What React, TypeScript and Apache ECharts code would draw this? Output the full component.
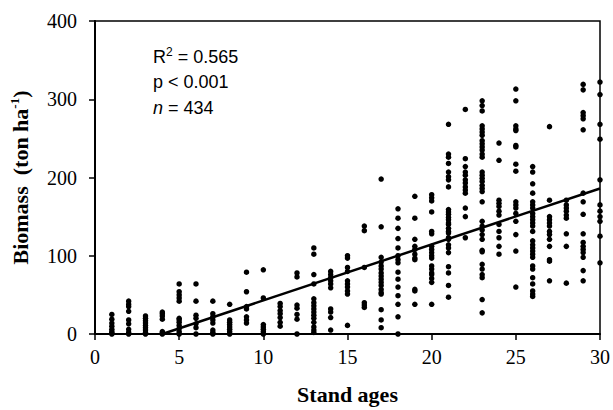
import React, { useEffect, useRef } from "react";
import * as echarts from "echarts";

const xTicks = [0, 5, 10, 15, 20, 25, 30];
const yTicks = [0, 100, 200, 300, 400];

const ages = [1, 2, 3, 4, 5, 6, 7, 8, 9, 10, 11, 12, 13, 14, 15, 16, 17, 18, 19, 20, 21, 22, 23, 24, 25, 26, 27, 28, 29, 30];

const b1 = [25, 19, 14, 10, 6, 3, 1, 0];
const b2 = [42, 38, 35, 29, 18, 13, 6, 2, 0];
const b3 = [23, 20, 17, 14, 11, 8, 5, 2, 0];
const b4 = [28, 26, 23, 19, 3, 1, 0];
const b5 = [64, 54, 50, 46, 42, 20, 18, 15, 11, 7, 3, 0];
const b6 = [64, 42, 24, 20, 13, 8, 0];
const b7 = [42, 26, 22, 18, 14, 5, 2, 0];
const b8 = [38, 18, 15, 12, 9, 6, 3, 0];
const b9 = [79, 54, 35, 32, 22, 18, 14];
const b10 = [82, 46, 12, 9, 6, 3, 0];
const b11 = [39, 35, 30, 26, 21, 15, 10];
const b12 = [78, 73, 37, 33, 25, 19, 0];
const b13 = [110, 102, 76, 64, 45, 40, 36, 32, 28, 24, 20, 15, 9, 5, 2];
const b14 = [80, 76, 72, 68, 64, 59, 32, 28, 21, 5];
const b15 = [100, 97, 85, 80, 68, 64, 60, 55, 51, 11];
const b16 = [138, 132, 85, 40, 37, 34];
const b17 = [198, 137, 98, 92, 87, 83, 78, 74, 70, 66, 62, 57, 53, 51, 31, 18, 8];
const b18 = [160, 148, 135, 122, 110, 100, 95, 91, 79, 70, 60, 49, 38, 22, 0];
const b19 = [176, 148, 121, 112, 108, 102, 97, 95, 57, 55, 38];
const b20 = [178, 174, 170, 156, 131, 128, 112, 108, 104, 100, 97, 87, 83, 78, 76, 71, 66, 38];
const b21 = [268, 230, 226, 218, 207, 201, 197, 188, 159, 156, 153, 149, 146, 142, 140, 135, 131, 129, 123, 121, 114, 110, 104, 86, 78, 62, 47];
const b22 = [287, 224, 214, 207, 203, 197, 193, 188, 184, 180, 161, 150, 123];
const b23 = [298, 292, 285, 266, 262, 258, 254, 247, 243, 239, 235, 230, 226, 207, 203, 199, 195, 190, 186, 182, 169, 144, 138, 133, 127, 121, 107, 105, 89, 83, 76, 72, 44, 27];
const b24 = [244, 222, 171, 167, 163, 157, 152, 140, 131, 123, 112, 102];
const b25 = [313, 298, 266, 262, 260, 241, 239, 217, 208, 169, 165, 161, 154, 144, 127, 106, 60];
const b26 = [214, 207, 192, 180, 169, 165, 161, 154, 150, 146, 142, 138, 131, 119, 114, 110, 106, 102, 98, 87, 83, 72, 64, 55, 51, 48];
const b27 = [265, 171, 150, 146, 142, 138, 131, 127, 121, 112, 95, 93, 68];
const b28 = [171, 165, 161, 157, 152, 148, 128, 112, 65];
const b29 = [319, 312, 283, 279, 275, 261, 180, 169, 153, 128, 117, 112, 108, 104, 98, 81, 68];
const b30 = [322, 306, 268, 249, 197, 165, 157, 150, 144, 125, 91];

const biomassGroups = [b1, b2, b3, b4, b5, b6, b7, b8, b9, b10, b11, b12, b13, b14, b15, b16, b17, b18, b19, b20, b21, b22, b23, b24, b25, b26, b27, b28, b29, b30];

// regression line end points (x, y)
const fitX = [4, 30];
const fitY = [0, 186];

const statLines = ["R{sup|2} = 0.565", "p < 0.001", "{i|n} = 434"];

export default function App() {
  const ref = useRef<HTMLDivElement>(null);
  useEffect(() => {
    if (!ref.current) return;
    const chart = echarts.init(ref.current, null, { renderer: "svg" });
    const points: number[][] = [];
    ages.forEach((a, i) => {
      biomassGroups[i].forEach((v) => points.push([a, v]));
    });
    const serif = "'Liberation Serif', 'Times New Roman', serif";
    const sans = "'Liberation Sans', Arial, sans-serif";
    chart.setOption({
      animation: false,
      backgroundColor: "#fff",
      grid: {
        left: 95,
        right: 9,
        top: 21,
        bottom: 73,
        show: true,
        borderColor: "#000",
        borderWidth: 1.5,
      },
      xAxis: {
        type: "value",
        min: xTicks[0],
        max: xTicks[xTicks.length - 1],
        interval: 5,
        name: "Stand ages",
        nameLocation: "middle",
        nameGap: 49,
        nameTextStyle: { fontFamily: serif, fontWeight: "bold", fontSize: 22, color: "#000" },
        axisLine: { lineStyle: { color: "#000", width: 2 } },
        axisTick: { show: true, length: 6, lineStyle: { color: "#000", width: 1.5 } },
        axisLabel: { fontFamily: serif, fontSize: 20, color: "#000", margin: 13 },
        splitLine: { show: false },
      },
      yAxis: {
        type: "value",
        min: yTicks[0],
        max: yTicks[yTicks.length - 1],
        interval: 100,
        name: "Biomass  (ton ha{sup|-1})",
        nameLocation: "middle",
        nameGap: 63,
        nameTextStyle: {
          fontFamily: serif,
          fontWeight: "bold",
          fontSize: 22,
          color: "#000",
          lineHeight: 24,
          rich: {
            sup: { fontFamily: serif, fontWeight: "bold", fontSize: 13, color: "#000", verticalAlign: "top", lineHeight: 24 },
          },
        },
        axisLine: { show: true, lineStyle: { color: "#000", width: 2 } },
        axisTick: { show: true, length: 6, lineStyle: { color: "#000", width: 1.5 } },
        axisLabel: { fontFamily: serif, fontSize: 20, color: "#000", margin: 18 },
        splitLine: { show: false },
      },
      graphic: statLines.map((t, i) => ({
        type: "text",
        x: 153,
        y: [57, 82, 108][i],
        style: {
          text: t,
          fontFamily: sans,
          fontSize: 18,
          fill: "#000",
          verticalAlign: "middle",
          lineHeight: 22,
          rich: {
            i: { fontFamily: sans, fontSize: 18, fontStyle: "italic", fill: "#000", lineHeight: 22 },
            sup: { fontFamily: sans, fontSize: 12, fill: "#000", verticalAlign: "top", lineHeight: 22 },
          },
        },
      })),
      series: [
        {
          type: "scatter",
          data: points,
          symbol: "circle",
          symbolSize: 5.5,
          itemStyle: { color: "#000", opacity: 1 },
          clip: false,
        },
        {
          type: "line",
          data: fitX.map((x, i) => [x, fitY[i]]),
          symbol: "none",
          lineStyle: { color: "#000", width: 2.5 },
        },
      ],
    });
    return () => chart.dispose();
  }, []);
  return (
    <div
      ref={ref}
      style={{ position: "fixed", left: 0, top: 0, width: 613, height: 410, background: "#fff" }}
    />
  );
}
